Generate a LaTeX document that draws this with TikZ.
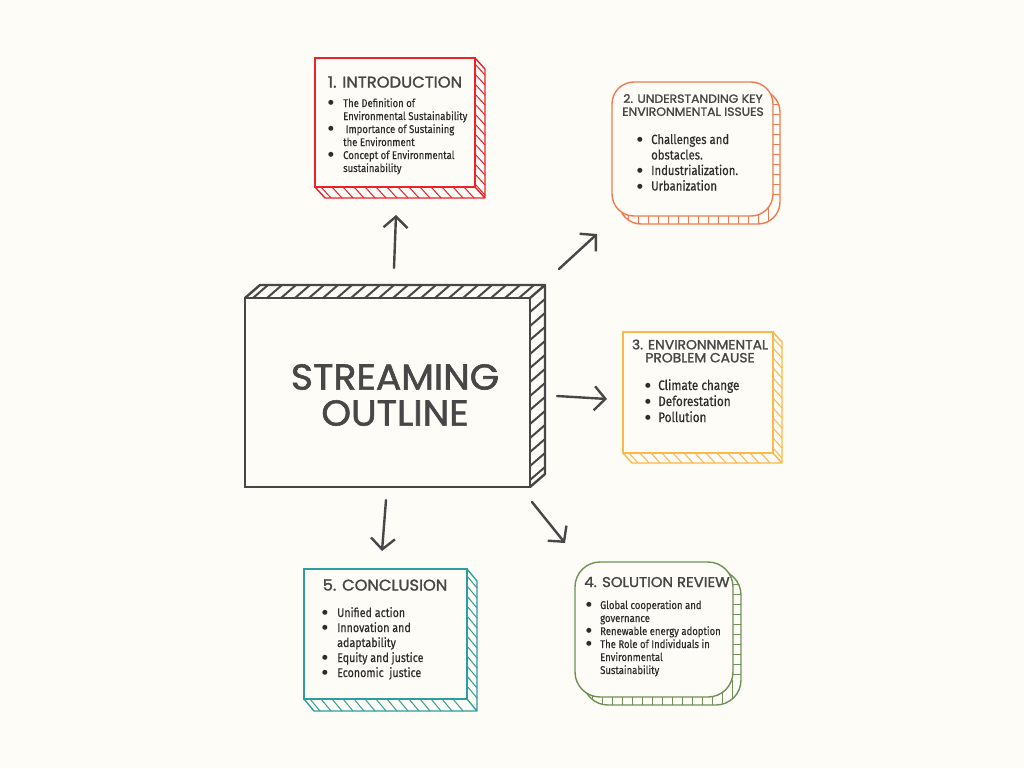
\documentclass[tikz,border=0pt]{standalone}
\usepackage{fontspec}
\newfontfamily\headfont{Poppins}[FakeStretch=1.05, FakeBold=1.6]
\newfontfamily\bodyfont{Fira Sans}[FakeStretch=0.85, FakeBold=0.4]
\newfontfamily\symfont{DejaVu Sans}
\newcommand\dotmark{\raisebox{0.18em}{\symfont\fontsize{6.5}{6.5}\selectfont ●}}
\usepackage{tikz}
\usetikzlibrary{arrows.meta}
\definecolor{paper}{RGB}{253,252,246}
\definecolor{ink}{RGB}{71,71,71}
\definecolor{textink}{RGB}{45,45,45}
\definecolor{introred}{RGB}{232,35,43}
\definecolor{issueorange}{RGB}{240,122,80}
\definecolor{causeyellow}{RGB}{252,184,74}
\definecolor{reviewgreen}{RGB}{111,145,87}
\definecolor{concteal}{RGB}{46,158,157}
\tikzset{face/.style={fill=paper, inner sep=0pt, line width=1.4pt},
  edge/.style={line width=1.4pt, line join=round, line cap=round},
  head/.style={font=\headfont, text=ink, align=center, inner sep=0pt},
  items/.style={text=textink, inner sep=0pt, anchor=base west},
  link/.style={ink, line width=2.4pt, line cap=round, -{Straight Barb[length=11pt,width=24pt]}}}

\begin{document}
\begin{tikzpicture}[x=1pt, y=-1pt]
  \fill[paper] (0,0) rectangle (1024,768);
  \useasboundingbox (0,0) rectangle (1024,768);

  % centre block
  \draw[edge, ink, line width=2.4pt] (245,298) -- (260,285) -- (545,285) -- (545,474) -- (530,487) (530,298) -- (545,285);
  \foreach \x in {253,267,...,525} {
    \draw[edge, ink, line width=2pt] (\x,298) -- ++(15,-13);
  }
  \foreach \y in {312,326,...,480} {
    \draw[edge, ink, line width=2pt] (530,\y) -- ++(15,-13);
  }
  \node [face, draw=ink, line width=2.4pt, minimum width=285pt, minimum height=189pt] (hub) at (387.5,392.5) {};
  \node [head, font=\headfont\fontsize{36}{36}\selectfont] (hub-title) at (395,395) {STREAMING\\OUTLINE};

  % 1. introduction
  \draw[edge, introred] (475,58) -- ++(10,11) -- (485,198) -- (325,198) -- (315,187) (475,187) -- (485,198);
  \foreach \y in {64,74,...,184} {
    \draw[edge, introred, line width=1pt] (475,\y) -- ++(10,11);
  }
  \foreach \x in {321,332,...,470} {
    \draw[edge, introred, line width=1pt] (\x,187) -- ++(10,11);
  }
  \node [face, draw=introred, minimum width=160pt, minimum height=129pt] (intro) at (395,122.5) {};
  \node [head, font=\headfont\fontsize{15.6}{16}\selectfont] (intro-head) at (395,82) {1. INTRODUCTION};
  \node [items, font=\bodyfont\fontsize{11.2}{13}\selectfont] (intro-list) at (328,107) {\begin{tabular}[t]{@{}p{15pt}@{}l@{}}
    \dotmark & The Definition of\\ & Environmental Sustainability\\
    \dotmark & \ Importance of Sustaining\\ & the Environment\\
    \dotmark & Concept of Environmental\\ & sustainability\end{tabular}};

  % 2. understanding key issues
  \begin{scope}
    \clip[rounded corners=22pt] (619,90) rectangle (780,224);
    \foreach \x in {628,638,...,772} {
      \draw[edge, issueorange, line width=1pt] (\x,200) -- (\x,230);
    }
    \foreach \y in {104,114,...,200} {
      \draw[edge, issueorange, line width=1pt] (760,\y) -- (786,\y);
    }
  \end{scope}
  \draw[edge, issueorange, rounded corners=22pt] (619,90) rectangle (780,224);
  \node [face, draw=issueorange, rounded corners=22pt, minimum width=161pt, minimum height=134pt] (issues) at (692.5,149) {};
  \node [head, font=\headfont\fontsize{11.8}{13}\selectfont] (issues-head) at (693,105) {2. UNDERSTANDING KEY\\ENVIRONMENTAL ISSUES};
  \node [items, font=\bodyfont\fontsize{13.3}{15.5}\selectfont] (issues-list) at (637,144) {\begin{tabular}[t]{@{}p{14pt}@{}l@{}}
    \dotmark & Challenges and\\ & obstacles.\\
    \dotmark & Industrialization.\\
    \dotmark & Urbanization\end{tabular}};

  % 3. problem causes
  \draw[edge, causeyellow] (773,332) -- ++(9,10) -- (782,463) -- (632,463) -- (623,453) (773,453) -- (782,463);
  \foreach \y in {338,348,...,448} {
    \draw[edge, causeyellow, line width=1pt] (773,\y) -- ++(9,10);
  }
  \foreach \x in {629,640,...,768} {
    \draw[edge, causeyellow, line width=1pt] (\x,453) -- ++(9,10);
  }
  \node [face, draw=causeyellow, minimum width=150pt, minimum height=121pt] (causes) at (698,392.5) {};
  \node [head, font=\headfont\fontsize{13.2}{13}\selectfont] (causes-head) at (700,351) {3. ENVIRONNMENTAL\\PROBLEM CAUSE};
  \node [items, font=\bodyfont\fontsize{13.8}{16}\selectfont] (causes-list) at (645,390) {\begin{tabular}[t]{@{}p{13pt}@{}l@{}}
    \dotmark & Climate change\\
    \dotmark & Deforestation\\
    \dotmark & Pollution\end{tabular}};

  % 4. solution review
  \begin{scope}
    \clip[rounded corners=25pt] (583,570) rectangle (741,705);
    \foreach \x in {592,602,...,734} {
      \draw[edge, reviewgreen, line width=1pt] (\x,680) -- (\x,710);
    }
    \foreach \y in {584,594,...,680} {
      \draw[edge, reviewgreen, line width=1pt] (720,\y) -- (746,\y);
    }
  \end{scope}
  \draw[edge, reviewgreen, rounded corners=25pt] (583,570) rectangle (741,705);
  \node [face, draw=reviewgreen, rounded corners=25pt, minimum width=158pt, minimum height=135pt] (review) at (654,629.5) {};
  \node [head, font=\headfont\fontsize{14.2}{15}\selectfont] (review-head) at (657,582) {4. SOLUTION REVIEW};
  \node [items, font=\bodyfont\fontsize{11.2}{13}\selectfont] (review-list) at (586,609) {\begin{tabular}[t]{@{}p{14pt}@{}l@{}}
    \dotmark & Global cooperation and\\ & governance\\
    \dotmark & Renewable energy adoption\\
    \dotmark & The Role of Individuals in\\ & Environmental\\ & Sustainability\end{tabular}};

  % 5. conclusion
  \draw[edge, concteal] (467,569) -- ++(10,12) -- (477,711) -- (314,711) -- (304,699) (467,699) -- (477,711);
  \foreach \y in {576,586,...,694} {
    \draw[edge, concteal, line width=1pt] (467,\y) -- ++(10,12);
  }
  \foreach \x in {310,321,...,462} {
    \draw[edge, concteal, line width=1pt] (\x,699) -- ++(10,12);
  }
  \node [face, draw=concteal, minimum width=163pt, minimum height=130pt] (concl) at (385.5,634) {};
  \node [head, font=\headfont\fontsize{15.5}{16}\selectfont] (concl-head) at (385,585) {5. CONCLUSION};
  \node [items, font=\bodyfont\fontsize{12.6}{15}\selectfont] (concl-list) at (322,617) {\begin{tabular}[t]{@{}p{15pt}@{}l@{}}
    \dotmark & Unified action\\
    \dotmark & Innovation and\\ & adaptability\\
    \dotmark & Equity and justice\\
    \dotmark & Economic\ \ justice\end{tabular}};

  % links out of the centre block
  \coordinate (hub-n) at (394,268);
  \coordinate (intro-in) at (396,215);
  \coordinate (hub-ne) at (559,269);
  \coordinate (issues-in) at (597,234);
  \coordinate (hub-e) at (557,396);
  \coordinate (causes-in) at (607,399);
  \coordinate (hub-se) at (532,502);
  \coordinate (review-in) at (565,543);
  \coordinate (hub-s) at (386,500);
  \coordinate (concl-in) at (382,551);
  \draw [link] (hub-n) -- (intro-in);
  \draw [link] (hub-ne) -- (issues-in);
  \draw [link] (hub-e) -- (causes-in);
  \draw [link] (hub-se) -- (review-in);
  \draw [link] (hub-s) -- (concl-in);
\end{tikzpicture}
\end{document}
